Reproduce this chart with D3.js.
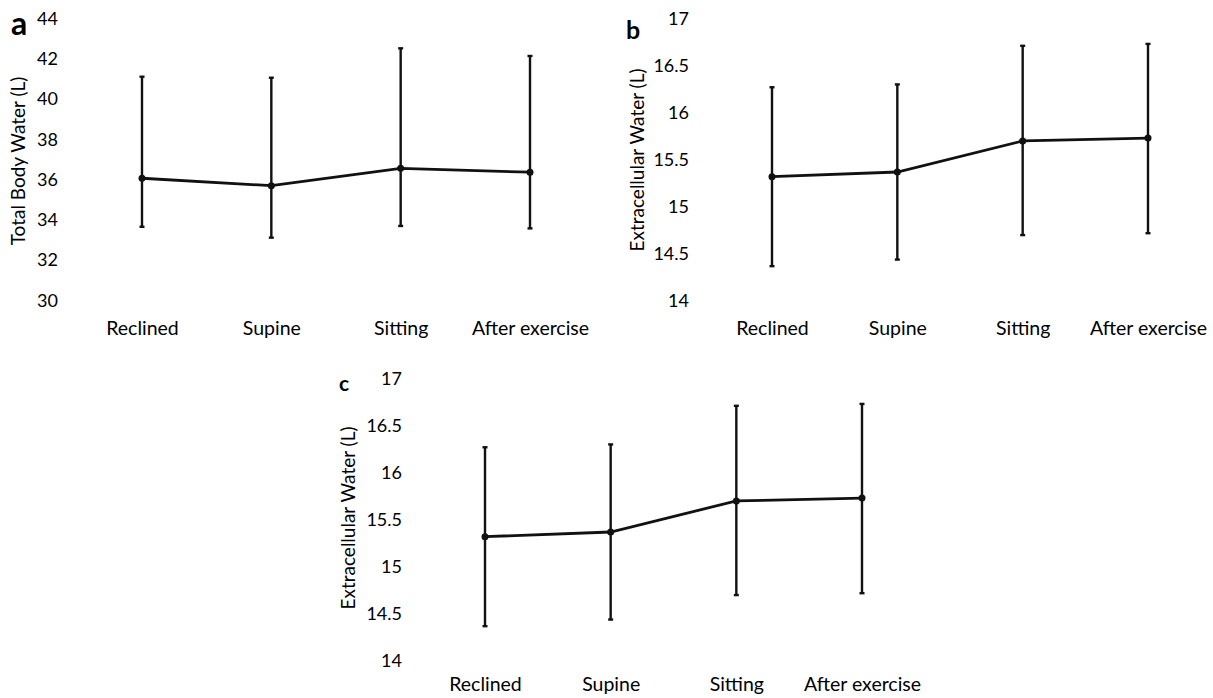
<!DOCTYPE html>
<html>
<head>
<meta charset="utf-8">
<script src="https://cdn.jsdelivr.net/npm/d3@7"></script>
<style>
  body { margin: 0; background: #fff; }
  svg { display: block; font-family: Lato, "Open Sans", sans-serif; }
</style>
</head>
<body>
<svg id="chart" width="1213" height="698"></svg>
<script>
// Data
const categories = ["Reclined", "Supine", "Sitting", "After exercise"];

const tbwMean = [36.07, 35.70, 36.56, 36.37];
const tbwHigh = [41.11, 41.06, 42.52, 42.14];
const tbwLow  = [33.66, 33.12, 33.70, 33.58];
const tbwTicks = [30, 32, 34, 36, 38, 40, 42, 44];

const ecwMean = [15.32, 15.37, 15.70, 15.73];
const ecwHigh = [16.27, 16.30, 16.71, 16.73];
const ecwLow  = [14.37, 14.44, 14.70, 14.72];
const ecwTicks = [14, 14.5, 15, 15.5, 16, 16.5, 17];

const svg = d3.select("#chart");

function drawPanel(opt) {
    const g = svg.append("g");
    const x = d3.scalePoint().domain(categories).range(opt.xRange);
    const y = d3.scaleLinear().domain(opt.yDomain).range(opt.yRange);

    const rows = categories.map((c, i) => ({cat: c, mean: opt.mean[i], hi: opt.high[i], lo: opt.low[i]}));

    // y tick labels (no axis line in the original)
    const yAxis = g.append("g")
        .attr("transform", `translate(${opt.tickX},0)`)
        .call(d3.axisLeft(y).tickValues(opt.ticks).tickSize(0).tickPadding(0).tickFormat(d => d));
    yAxis.select(".domain").remove();
    yAxis.selectAll("text")
        .attr("font-family", "Lato, sans-serif")
        .attr("font-size", 18)
        .attr("fill", "#000");

    // x category labels
    const xAxis = g.append("g")
        .attr("transform", `translate(0,${opt.labelY})`)
        .call(d3.axisBottom(x).tickSize(0).tickPadding(0));
    xAxis.select(".domain").remove();
    xAxis.selectAll("text")
        .attr("dy", 0)
        .attr("y", 0)
        .attr("font-family", "Lato, sans-serif")
        .attr("font-size", 19.5)
        .attr("fill", "#000");

    // error bars
    g.selectAll(".err")
        .data(rows)
        .join("line")
        .attr("class", "err")
        .attr("x1", d => x(d.cat)).attr("x2", d => x(d.cat))
        .attr("y1", d => y(d.hi)).attr("y2", d => y(d.lo))
        .attr("stroke", "#111").attr("stroke-width", 2.4);
    ["hi", "lo"].forEach(k => {
        g.selectAll(".cap-" + k)
            .data(rows)
            .join("line")
            .attr("class", "cap-" + k)
            .attr("x1", d => x(d.cat) - 2.5).attr("x2", d => x(d.cat) + 2.5)
            .attr("y1", d => y(d[k])).attr("y2", d => y(d[k]))
            .attr("stroke", "#111").attr("stroke-width", 2.4);
    });

    // mean line
    const line = d3.line().x(d => x(d.cat)).y(d => y(d.mean));
    g.append("path")
        .datum(rows)
        .attr("d", line)
        .attr("fill", "none")
        .attr("stroke", "#111")
        .attr("stroke-width", 2.8);

    g.selectAll(".pt")
        .data(rows)
        .join("circle")
        .attr("class", "pt")
        .attr("cx", d => x(d.cat))
        .attr("cy", d => y(d.mean))
        .attr("r", 3.5)
        .attr("fill", "#111");

    // y axis title
    g.append("text")
        .attr("transform", `translate(${opt.titleX},${opt.titleY}) rotate(-90)`)
        .attr("text-anchor", "middle")
        .attr("dominant-baseline", "middle")
        .attr("font-size", 19)
        .attr("fill", "#000")
        .text(opt.title);

    // panel letter
    g.append("text")
        .attr("x", opt.letterX).attr("y", opt.letterY)
        .attr("font-weight", "bold")
        .attr("font-size", opt.letterSize)
        .attr("fill", "#000")
        .text(opt.letter);
}

drawPanel({
    letter: "a", letterX: 11, letterY: 35, letterSize: 32,
    title: "Total Body Water (L)", titleX: 20, titleY: 161,
    mean: tbwMean, high: tbwHigh, low: tbwLow, ticks: tbwTicks,
    yDomain: [30, 44], yRange: [300.5, 18.5], tickX: 58,
    xRange: [142, 530], labelY: 335
});

drawPanel({
    letter: "b", letterX: 626, letterY: 39, letterSize: 25,
    title: "Extracellular Water (L)", titleX: 639, titleY: 160,
    mean: ecwMean, high: ecwHigh, low: ecwLow, ticks: ecwTicks,
    yDomain: [14, 17], yRange: [301, 18.5], tickX: 689,
    xRange: [772, 1148], labelY: 335
});

drawPanel({
    letter: "c", letterX: 339, letterY: 391, letterSize: 21,
    title: "Extracellular Water (L)", titleX: 350, titleY: 518,
    mean: ecwMean, high: ecwHigh, low: ecwLow, ticks: ecwTicks,
    yDomain: [14, 17], yRange: [661, 378.5], tickX: 402,
    xRange: [485, 862], labelY: 691
});
</script>
</body>
</html>
